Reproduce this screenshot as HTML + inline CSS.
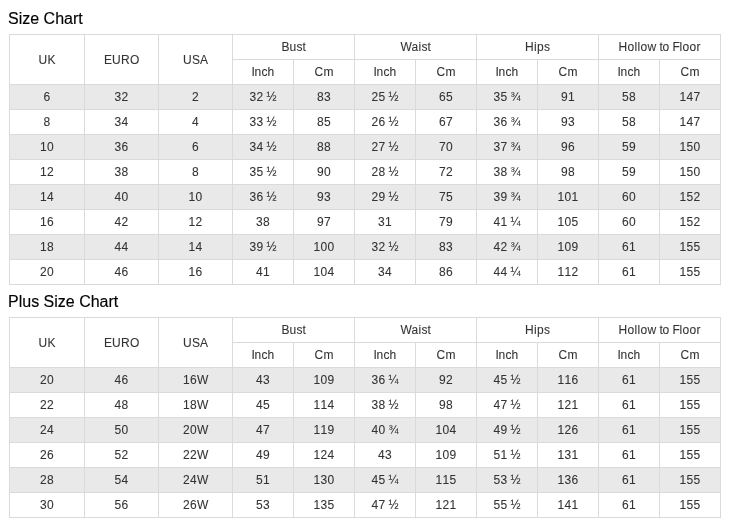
<!DOCTYPE html>
<html><head><meta charset="utf-8"><style>
html,body{margin:0;padding:0;background:#fff;}
body{width:730px;height:530px;position:relative;overflow:hidden;font-family:"Liberation Sans",sans-serif;}
#w{position:absolute;left:0;top:0;width:730px;height:530px;will-change:transform;}
.c{position:absolute;display:flex;align-items:center;justify-content:center;font-size:12px;color:#333333;white-space:nowrap;-webkit-text-stroke:0.08px #333333;}
.l{position:absolute;background:#dadada;}
.c i{font-style:normal;display:inline-block;overflow:visible;}
.w3{width:3px}.w4{width:4px}.w6{width:6px}.w7{width:7px}.w8{width:8px}.w9{width:9px}.w10{width:10px}.w11{width:11px}
.t{position:absolute;left:8px;font-size:16px;color:#000000;-webkit-text-stroke:0.15px #000000;line-height:36px;height:36px;white-space:nowrap;}
</style></head><body><div id="w">
<div class="t" style="top:1px">Size Chart</div>
<div style="position:absolute;left:9px;top:84px;width:711px;height:25px;background:#e9e9e9"></div>
<div style="position:absolute;left:9px;top:134px;width:711px;height:25px;background:#e9e9e9"></div>
<div style="position:absolute;left:9px;top:184px;width:711px;height:25px;background:#e9e9e9"></div>
<div style="position:absolute;left:9px;top:234px;width:711px;height:25px;background:#e9e9e9"></div>
<div class="c" style="left:10px;top:35px;width:74px;height:49px;"><i class="w9">U</i><i class="w8">K</i></div>
<div class="c" style="left:85px;top:35px;width:73px;height:49px;"><i class="w8">E</i><i class="w9">U</i><i class="w9">R</i><i class="w9">O</i></div>
<div class="c" style="left:159px;top:35px;width:73px;height:49px;"><i class="w9">U</i><i class="w8">S</i><i class="w8">A</i></div>
<div class="c" style="left:233px;top:35px;width:121px;height:24px;"><i class="w8">B</i><i class="w7">u</i><i class="w6">s</i><i class="w3">t</i></div>
<div class="c" style="left:233px;top:60px;width:60px;height:24px;"><i class="w3">I</i><i class="w7">n</i><i class="w6">c</i><i class="w7">h</i></div>
<div class="c" style="left:294px;top:60px;width:60px;height:24px;"><i class="w9">C</i><i class="w10">m</i></div>
<div class="c" style="left:355px;top:35px;width:121px;height:24px;"><i class="w11">W</i><i class="w7">a</i><i class="w3">i</i><i class="w6">s</i><i class="w3">t</i></div>
<div class="c" style="left:355px;top:60px;width:60px;height:24px;"><i class="w3">I</i><i class="w7">n</i><i class="w6">c</i><i class="w7">h</i></div>
<div class="c" style="left:416px;top:60px;width:60px;height:24px;"><i class="w9">C</i><i class="w10">m</i></div>
<div class="c" style="left:477px;top:35px;width:121px;height:24px;"><i class="w9">H</i><i class="w3">i</i><i class="w7">p</i><i class="w6">s</i></div>
<div class="c" style="left:477px;top:60px;width:60px;height:24px;"><i class="w3">I</i><i class="w7">n</i><i class="w6">c</i><i class="w7">h</i></div>
<div class="c" style="left:538px;top:60px;width:60px;height:24px;"><i class="w9">C</i><i class="w10">m</i></div>
<div class="c" style="left:599px;top:35px;width:121px;height:24px;"><i class="w9">H</i><i class="w7">o</i><i class="w3">l</i><i class="w3">l</i><i class="w7">o</i><i class="w9">w</i><i class="w3">&nbsp;</i><i class="w3">t</i><i class="w7">o</i><i class="w3">&nbsp;</i><i class="w7">F</i><i class="w3">l</i><i class="w7">o</i><i class="w7">o</i><i class="w4">r</i></div>
<div class="c" style="left:599px;top:60px;width:60px;height:24px;"><i class="w3">I</i><i class="w7">n</i><i class="w6">c</i><i class="w7">h</i></div>
<div class="c" style="left:660px;top:60px;width:60px;height:24px;"><i class="w9">C</i><i class="w10">m</i></div>
<div class="c" style="left:10px;top:85px;width:74px;height:24px;"><i class="w7">6</i></div>
<div class="c" style="left:85px;top:85px;width:73px;height:24px;"><i class="w7">3</i><i class="w7">2</i></div>
<div class="c" style="left:159px;top:85px;width:73px;height:24px;"><i class="w7">2</i></div>
<div class="c" style="left:233px;top:85px;width:60px;height:24px;"><i class="w7">3</i><i class="w7">2</i><i class="w3">&nbsp;</i><i class="w10">½</i></div>
<div class="c" style="left:294px;top:85px;width:60px;height:24px;"><i class="w7">8</i><i class="w7">3</i></div>
<div class="c" style="left:355px;top:85px;width:60px;height:24px;"><i class="w7">2</i><i class="w7">5</i><i class="w3">&nbsp;</i><i class="w10">½</i></div>
<div class="c" style="left:416px;top:85px;width:60px;height:24px;"><i class="w7">6</i><i class="w7">5</i></div>
<div class="c" style="left:477px;top:85px;width:60px;height:24px;"><i class="w7">3</i><i class="w7">5</i><i class="w3">&nbsp;</i><i class="w10">¾</i></div>
<div class="c" style="left:538px;top:85px;width:60px;height:24px;"><i class="w7">9</i><i class="w7">1</i></div>
<div class="c" style="left:599px;top:85px;width:60px;height:24px;"><i class="w7">5</i><i class="w7">8</i></div>
<div class="c" style="left:660px;top:85px;width:60px;height:24px;"><i class="w7">1</i><i class="w7">4</i><i class="w7">7</i></div>
<div class="c" style="left:10px;top:110px;width:74px;height:24px;"><i class="w7">8</i></div>
<div class="c" style="left:85px;top:110px;width:73px;height:24px;"><i class="w7">3</i><i class="w7">4</i></div>
<div class="c" style="left:159px;top:110px;width:73px;height:24px;"><i class="w7">4</i></div>
<div class="c" style="left:233px;top:110px;width:60px;height:24px;"><i class="w7">3</i><i class="w7">3</i><i class="w3">&nbsp;</i><i class="w10">½</i></div>
<div class="c" style="left:294px;top:110px;width:60px;height:24px;"><i class="w7">8</i><i class="w7">5</i></div>
<div class="c" style="left:355px;top:110px;width:60px;height:24px;"><i class="w7">2</i><i class="w7">6</i><i class="w3">&nbsp;</i><i class="w10">½</i></div>
<div class="c" style="left:416px;top:110px;width:60px;height:24px;"><i class="w7">6</i><i class="w7">7</i></div>
<div class="c" style="left:477px;top:110px;width:60px;height:24px;"><i class="w7">3</i><i class="w7">6</i><i class="w3">&nbsp;</i><i class="w10">¾</i></div>
<div class="c" style="left:538px;top:110px;width:60px;height:24px;"><i class="w7">9</i><i class="w7">3</i></div>
<div class="c" style="left:599px;top:110px;width:60px;height:24px;"><i class="w7">5</i><i class="w7">8</i></div>
<div class="c" style="left:660px;top:110px;width:60px;height:24px;"><i class="w7">1</i><i class="w7">4</i><i class="w7">7</i></div>
<div class="c" style="left:10px;top:135px;width:74px;height:24px;"><i class="w7">1</i><i class="w7">0</i></div>
<div class="c" style="left:85px;top:135px;width:73px;height:24px;"><i class="w7">3</i><i class="w7">6</i></div>
<div class="c" style="left:159px;top:135px;width:73px;height:24px;"><i class="w7">6</i></div>
<div class="c" style="left:233px;top:135px;width:60px;height:24px;"><i class="w7">3</i><i class="w7">4</i><i class="w3">&nbsp;</i><i class="w10">½</i></div>
<div class="c" style="left:294px;top:135px;width:60px;height:24px;"><i class="w7">8</i><i class="w7">8</i></div>
<div class="c" style="left:355px;top:135px;width:60px;height:24px;"><i class="w7">2</i><i class="w7">7</i><i class="w3">&nbsp;</i><i class="w10">½</i></div>
<div class="c" style="left:416px;top:135px;width:60px;height:24px;"><i class="w7">7</i><i class="w7">0</i></div>
<div class="c" style="left:477px;top:135px;width:60px;height:24px;"><i class="w7">3</i><i class="w7">7</i><i class="w3">&nbsp;</i><i class="w10">¾</i></div>
<div class="c" style="left:538px;top:135px;width:60px;height:24px;"><i class="w7">9</i><i class="w7">6</i></div>
<div class="c" style="left:599px;top:135px;width:60px;height:24px;"><i class="w7">5</i><i class="w7">9</i></div>
<div class="c" style="left:660px;top:135px;width:60px;height:24px;"><i class="w7">1</i><i class="w7">5</i><i class="w7">0</i></div>
<div class="c" style="left:10px;top:160px;width:74px;height:24px;"><i class="w7">1</i><i class="w7">2</i></div>
<div class="c" style="left:85px;top:160px;width:73px;height:24px;"><i class="w7">3</i><i class="w7">8</i></div>
<div class="c" style="left:159px;top:160px;width:73px;height:24px;"><i class="w7">8</i></div>
<div class="c" style="left:233px;top:160px;width:60px;height:24px;"><i class="w7">3</i><i class="w7">5</i><i class="w3">&nbsp;</i><i class="w10">½</i></div>
<div class="c" style="left:294px;top:160px;width:60px;height:24px;"><i class="w7">9</i><i class="w7">0</i></div>
<div class="c" style="left:355px;top:160px;width:60px;height:24px;"><i class="w7">2</i><i class="w7">8</i><i class="w3">&nbsp;</i><i class="w10">½</i></div>
<div class="c" style="left:416px;top:160px;width:60px;height:24px;"><i class="w7">7</i><i class="w7">2</i></div>
<div class="c" style="left:477px;top:160px;width:60px;height:24px;"><i class="w7">3</i><i class="w7">8</i><i class="w3">&nbsp;</i><i class="w10">¾</i></div>
<div class="c" style="left:538px;top:160px;width:60px;height:24px;"><i class="w7">9</i><i class="w7">8</i></div>
<div class="c" style="left:599px;top:160px;width:60px;height:24px;"><i class="w7">5</i><i class="w7">9</i></div>
<div class="c" style="left:660px;top:160px;width:60px;height:24px;"><i class="w7">1</i><i class="w7">5</i><i class="w7">0</i></div>
<div class="c" style="left:10px;top:185px;width:74px;height:24px;"><i class="w7">1</i><i class="w7">4</i></div>
<div class="c" style="left:85px;top:185px;width:73px;height:24px;"><i class="w7">4</i><i class="w7">0</i></div>
<div class="c" style="left:159px;top:185px;width:73px;height:24px;"><i class="w7">1</i><i class="w7">0</i></div>
<div class="c" style="left:233px;top:185px;width:60px;height:24px;"><i class="w7">3</i><i class="w7">6</i><i class="w3">&nbsp;</i><i class="w10">½</i></div>
<div class="c" style="left:294px;top:185px;width:60px;height:24px;"><i class="w7">9</i><i class="w7">3</i></div>
<div class="c" style="left:355px;top:185px;width:60px;height:24px;"><i class="w7">2</i><i class="w7">9</i><i class="w3">&nbsp;</i><i class="w10">½</i></div>
<div class="c" style="left:416px;top:185px;width:60px;height:24px;"><i class="w7">7</i><i class="w7">5</i></div>
<div class="c" style="left:477px;top:185px;width:60px;height:24px;"><i class="w7">3</i><i class="w7">9</i><i class="w3">&nbsp;</i><i class="w10">¾</i></div>
<div class="c" style="left:538px;top:185px;width:60px;height:24px;"><i class="w7">1</i><i class="w7">0</i><i class="w7">1</i></div>
<div class="c" style="left:599px;top:185px;width:60px;height:24px;"><i class="w7">6</i><i class="w7">0</i></div>
<div class="c" style="left:660px;top:185px;width:60px;height:24px;"><i class="w7">1</i><i class="w7">5</i><i class="w7">2</i></div>
<div class="c" style="left:10px;top:210px;width:74px;height:24px;"><i class="w7">1</i><i class="w7">6</i></div>
<div class="c" style="left:85px;top:210px;width:73px;height:24px;"><i class="w7">4</i><i class="w7">2</i></div>
<div class="c" style="left:159px;top:210px;width:73px;height:24px;"><i class="w7">1</i><i class="w7">2</i></div>
<div class="c" style="left:233px;top:210px;width:60px;height:24px;"><i class="w7">3</i><i class="w7">8</i></div>
<div class="c" style="left:294px;top:210px;width:60px;height:24px;"><i class="w7">9</i><i class="w7">7</i></div>
<div class="c" style="left:355px;top:210px;width:60px;height:24px;"><i class="w7">3</i><i class="w7">1</i></div>
<div class="c" style="left:416px;top:210px;width:60px;height:24px;"><i class="w7">7</i><i class="w7">9</i></div>
<div class="c" style="left:477px;top:210px;width:60px;height:24px;"><i class="w7">4</i><i class="w7">1</i><i class="w3">&nbsp;</i><i class="w10">¼</i></div>
<div class="c" style="left:538px;top:210px;width:60px;height:24px;"><i class="w7">1</i><i class="w7">0</i><i class="w7">5</i></div>
<div class="c" style="left:599px;top:210px;width:60px;height:24px;"><i class="w7">6</i><i class="w7">0</i></div>
<div class="c" style="left:660px;top:210px;width:60px;height:24px;"><i class="w7">1</i><i class="w7">5</i><i class="w7">2</i></div>
<div class="c" style="left:10px;top:235px;width:74px;height:24px;"><i class="w7">1</i><i class="w7">8</i></div>
<div class="c" style="left:85px;top:235px;width:73px;height:24px;"><i class="w7">4</i><i class="w7">4</i></div>
<div class="c" style="left:159px;top:235px;width:73px;height:24px;"><i class="w7">1</i><i class="w7">4</i></div>
<div class="c" style="left:233px;top:235px;width:60px;height:24px;"><i class="w7">3</i><i class="w7">9</i><i class="w3">&nbsp;</i><i class="w10">½</i></div>
<div class="c" style="left:294px;top:235px;width:60px;height:24px;"><i class="w7">1</i><i class="w7">0</i><i class="w7">0</i></div>
<div class="c" style="left:355px;top:235px;width:60px;height:24px;"><i class="w7">3</i><i class="w7">2</i><i class="w3">&nbsp;</i><i class="w10">½</i></div>
<div class="c" style="left:416px;top:235px;width:60px;height:24px;"><i class="w7">8</i><i class="w7">3</i></div>
<div class="c" style="left:477px;top:235px;width:60px;height:24px;"><i class="w7">4</i><i class="w7">2</i><i class="w3">&nbsp;</i><i class="w10">¾</i></div>
<div class="c" style="left:538px;top:235px;width:60px;height:24px;"><i class="w7">1</i><i class="w7">0</i><i class="w7">9</i></div>
<div class="c" style="left:599px;top:235px;width:60px;height:24px;"><i class="w7">6</i><i class="w7">1</i></div>
<div class="c" style="left:660px;top:235px;width:60px;height:24px;"><i class="w7">1</i><i class="w7">5</i><i class="w7">5</i></div>
<div class="c" style="left:10px;top:260px;width:74px;height:24px;"><i class="w7">2</i><i class="w7">0</i></div>
<div class="c" style="left:85px;top:260px;width:73px;height:24px;"><i class="w7">4</i><i class="w7">6</i></div>
<div class="c" style="left:159px;top:260px;width:73px;height:24px;"><i class="w7">1</i><i class="w7">6</i></div>
<div class="c" style="left:233px;top:260px;width:60px;height:24px;"><i class="w7">4</i><i class="w7">1</i></div>
<div class="c" style="left:294px;top:260px;width:60px;height:24px;"><i class="w7">1</i><i class="w7">0</i><i class="w7">4</i></div>
<div class="c" style="left:355px;top:260px;width:60px;height:24px;"><i class="w7">3</i><i class="w7">4</i></div>
<div class="c" style="left:416px;top:260px;width:60px;height:24px;"><i class="w7">8</i><i class="w7">6</i></div>
<div class="c" style="left:477px;top:260px;width:60px;height:24px;"><i class="w7">4</i><i class="w7">4</i><i class="w3">&nbsp;</i><i class="w10">¼</i></div>
<div class="c" style="left:538px;top:260px;width:60px;height:24px;"><i class="w7">1</i><i class="w7">1</i><i class="w7">2</i></div>
<div class="c" style="left:599px;top:260px;width:60px;height:24px;"><i class="w7">6</i><i class="w7">1</i></div>
<div class="c" style="left:660px;top:260px;width:60px;height:24px;"><i class="w7">1</i><i class="w7">5</i><i class="w7">5</i></div>
<div class="l" style="left:9px;top:34px;width:712px;height:1px"></div>
<div class="l" style="left:232px;top:59px;width:489px;height:1px"></div>
<div class="l" style="left:9px;top:84px;width:712px;height:1px"></div>
<div class="l" style="left:9px;top:109px;width:712px;height:1px"></div>
<div class="l" style="left:9px;top:134px;width:712px;height:1px"></div>
<div class="l" style="left:9px;top:159px;width:712px;height:1px"></div>
<div class="l" style="left:9px;top:184px;width:712px;height:1px"></div>
<div class="l" style="left:9px;top:209px;width:712px;height:1px"></div>
<div class="l" style="left:9px;top:234px;width:712px;height:1px"></div>
<div class="l" style="left:9px;top:259px;width:712px;height:1px"></div>
<div class="l" style="left:9px;top:284px;width:712px;height:1px"></div>
<div class="l" style="left:9px;top:34px;width:1px;height:251px"></div>
<div class="l" style="left:84px;top:34px;width:1px;height:251px"></div>
<div class="l" style="left:158px;top:34px;width:1px;height:251px"></div>
<div class="l" style="left:232px;top:34px;width:1px;height:251px"></div>
<div class="l" style="left:293px;top:59px;width:1px;height:226px"></div>
<div class="l" style="left:354px;top:34px;width:1px;height:251px"></div>
<div class="l" style="left:415px;top:59px;width:1px;height:226px"></div>
<div class="l" style="left:476px;top:34px;width:1px;height:251px"></div>
<div class="l" style="left:537px;top:59px;width:1px;height:226px"></div>
<div class="l" style="left:598px;top:34px;width:1px;height:251px"></div>
<div class="l" style="left:659px;top:59px;width:1px;height:226px"></div>
<div class="l" style="left:720px;top:34px;width:1px;height:251px"></div>
<div class="t" style="top:284px">Plus Size Chart</div>
<div style="position:absolute;left:9px;top:367px;width:711px;height:25px;background:#e9e9e9"></div>
<div style="position:absolute;left:9px;top:417px;width:711px;height:25px;background:#e9e9e9"></div>
<div style="position:absolute;left:9px;top:467px;width:711px;height:25px;background:#e9e9e9"></div>
<div class="c" style="left:10px;top:318px;width:74px;height:49px;"><i class="w9">U</i><i class="w8">K</i></div>
<div class="c" style="left:85px;top:318px;width:73px;height:49px;"><i class="w8">E</i><i class="w9">U</i><i class="w9">R</i><i class="w9">O</i></div>
<div class="c" style="left:159px;top:318px;width:73px;height:49px;"><i class="w9">U</i><i class="w8">S</i><i class="w8">A</i></div>
<div class="c" style="left:233px;top:318px;width:121px;height:24px;"><i class="w8">B</i><i class="w7">u</i><i class="w6">s</i><i class="w3">t</i></div>
<div class="c" style="left:233px;top:343px;width:60px;height:24px;"><i class="w3">I</i><i class="w7">n</i><i class="w6">c</i><i class="w7">h</i></div>
<div class="c" style="left:294px;top:343px;width:60px;height:24px;"><i class="w9">C</i><i class="w10">m</i></div>
<div class="c" style="left:355px;top:318px;width:121px;height:24px;"><i class="w11">W</i><i class="w7">a</i><i class="w3">i</i><i class="w6">s</i><i class="w3">t</i></div>
<div class="c" style="left:355px;top:343px;width:60px;height:24px;"><i class="w3">I</i><i class="w7">n</i><i class="w6">c</i><i class="w7">h</i></div>
<div class="c" style="left:416px;top:343px;width:60px;height:24px;"><i class="w9">C</i><i class="w10">m</i></div>
<div class="c" style="left:477px;top:318px;width:121px;height:24px;"><i class="w9">H</i><i class="w3">i</i><i class="w7">p</i><i class="w6">s</i></div>
<div class="c" style="left:477px;top:343px;width:60px;height:24px;"><i class="w3">I</i><i class="w7">n</i><i class="w6">c</i><i class="w7">h</i></div>
<div class="c" style="left:538px;top:343px;width:60px;height:24px;"><i class="w9">C</i><i class="w10">m</i></div>
<div class="c" style="left:599px;top:318px;width:121px;height:24px;"><i class="w9">H</i><i class="w7">o</i><i class="w3">l</i><i class="w3">l</i><i class="w7">o</i><i class="w9">w</i><i class="w3">&nbsp;</i><i class="w3">t</i><i class="w7">o</i><i class="w3">&nbsp;</i><i class="w7">F</i><i class="w3">l</i><i class="w7">o</i><i class="w7">o</i><i class="w4">r</i></div>
<div class="c" style="left:599px;top:343px;width:60px;height:24px;"><i class="w3">I</i><i class="w7">n</i><i class="w6">c</i><i class="w7">h</i></div>
<div class="c" style="left:660px;top:343px;width:60px;height:24px;"><i class="w9">C</i><i class="w10">m</i></div>
<div class="c" style="left:10px;top:368px;width:74px;height:24px;"><i class="w7">2</i><i class="w7">0</i></div>
<div class="c" style="left:85px;top:368px;width:73px;height:24px;"><i class="w7">4</i><i class="w7">6</i></div>
<div class="c" style="left:159px;top:368px;width:73px;height:24px;"><i class="w7">1</i><i class="w7">6</i><i class="w11">W</i></div>
<div class="c" style="left:233px;top:368px;width:60px;height:24px;"><i class="w7">4</i><i class="w7">3</i></div>
<div class="c" style="left:294px;top:368px;width:60px;height:24px;"><i class="w7">1</i><i class="w7">0</i><i class="w7">9</i></div>
<div class="c" style="left:355px;top:368px;width:60px;height:24px;"><i class="w7">3</i><i class="w7">6</i><i class="w3">&nbsp;</i><i class="w10">¼</i></div>
<div class="c" style="left:416px;top:368px;width:60px;height:24px;"><i class="w7">9</i><i class="w7">2</i></div>
<div class="c" style="left:477px;top:368px;width:60px;height:24px;"><i class="w7">4</i><i class="w7">5</i><i class="w3">&nbsp;</i><i class="w10">½</i></div>
<div class="c" style="left:538px;top:368px;width:60px;height:24px;"><i class="w7">1</i><i class="w7">1</i><i class="w7">6</i></div>
<div class="c" style="left:599px;top:368px;width:60px;height:24px;"><i class="w7">6</i><i class="w7">1</i></div>
<div class="c" style="left:660px;top:368px;width:60px;height:24px;"><i class="w7">1</i><i class="w7">5</i><i class="w7">5</i></div>
<div class="c" style="left:10px;top:393px;width:74px;height:24px;"><i class="w7">2</i><i class="w7">2</i></div>
<div class="c" style="left:85px;top:393px;width:73px;height:24px;"><i class="w7">4</i><i class="w7">8</i></div>
<div class="c" style="left:159px;top:393px;width:73px;height:24px;"><i class="w7">1</i><i class="w7">8</i><i class="w11">W</i></div>
<div class="c" style="left:233px;top:393px;width:60px;height:24px;"><i class="w7">4</i><i class="w7">5</i></div>
<div class="c" style="left:294px;top:393px;width:60px;height:24px;"><i class="w7">1</i><i class="w7">1</i><i class="w7">4</i></div>
<div class="c" style="left:355px;top:393px;width:60px;height:24px;"><i class="w7">3</i><i class="w7">8</i><i class="w3">&nbsp;</i><i class="w10">½</i></div>
<div class="c" style="left:416px;top:393px;width:60px;height:24px;"><i class="w7">9</i><i class="w7">8</i></div>
<div class="c" style="left:477px;top:393px;width:60px;height:24px;"><i class="w7">4</i><i class="w7">7</i><i class="w3">&nbsp;</i><i class="w10">½</i></div>
<div class="c" style="left:538px;top:393px;width:60px;height:24px;"><i class="w7">1</i><i class="w7">2</i><i class="w7">1</i></div>
<div class="c" style="left:599px;top:393px;width:60px;height:24px;"><i class="w7">6</i><i class="w7">1</i></div>
<div class="c" style="left:660px;top:393px;width:60px;height:24px;"><i class="w7">1</i><i class="w7">5</i><i class="w7">5</i></div>
<div class="c" style="left:10px;top:418px;width:74px;height:24px;"><i class="w7">2</i><i class="w7">4</i></div>
<div class="c" style="left:85px;top:418px;width:73px;height:24px;"><i class="w7">5</i><i class="w7">0</i></div>
<div class="c" style="left:159px;top:418px;width:73px;height:24px;"><i class="w7">2</i><i class="w7">0</i><i class="w11">W</i></div>
<div class="c" style="left:233px;top:418px;width:60px;height:24px;"><i class="w7">4</i><i class="w7">7</i></div>
<div class="c" style="left:294px;top:418px;width:60px;height:24px;"><i class="w7">1</i><i class="w7">1</i><i class="w7">9</i></div>
<div class="c" style="left:355px;top:418px;width:60px;height:24px;"><i class="w7">4</i><i class="w7">0</i><i class="w3">&nbsp;</i><i class="w10">¾</i></div>
<div class="c" style="left:416px;top:418px;width:60px;height:24px;"><i class="w7">1</i><i class="w7">0</i><i class="w7">4</i></div>
<div class="c" style="left:477px;top:418px;width:60px;height:24px;"><i class="w7">4</i><i class="w7">9</i><i class="w3">&nbsp;</i><i class="w10">½</i></div>
<div class="c" style="left:538px;top:418px;width:60px;height:24px;"><i class="w7">1</i><i class="w7">2</i><i class="w7">6</i></div>
<div class="c" style="left:599px;top:418px;width:60px;height:24px;"><i class="w7">6</i><i class="w7">1</i></div>
<div class="c" style="left:660px;top:418px;width:60px;height:24px;"><i class="w7">1</i><i class="w7">5</i><i class="w7">5</i></div>
<div class="c" style="left:10px;top:443px;width:74px;height:24px;"><i class="w7">2</i><i class="w7">6</i></div>
<div class="c" style="left:85px;top:443px;width:73px;height:24px;"><i class="w7">5</i><i class="w7">2</i></div>
<div class="c" style="left:159px;top:443px;width:73px;height:24px;"><i class="w7">2</i><i class="w7">2</i><i class="w11">W</i></div>
<div class="c" style="left:233px;top:443px;width:60px;height:24px;"><i class="w7">4</i><i class="w7">9</i></div>
<div class="c" style="left:294px;top:443px;width:60px;height:24px;"><i class="w7">1</i><i class="w7">2</i><i class="w7">4</i></div>
<div class="c" style="left:355px;top:443px;width:60px;height:24px;"><i class="w7">4</i><i class="w7">3</i></div>
<div class="c" style="left:416px;top:443px;width:60px;height:24px;"><i class="w7">1</i><i class="w7">0</i><i class="w7">9</i></div>
<div class="c" style="left:477px;top:443px;width:60px;height:24px;"><i class="w7">5</i><i class="w7">1</i><i class="w3">&nbsp;</i><i class="w10">½</i></div>
<div class="c" style="left:538px;top:443px;width:60px;height:24px;"><i class="w7">1</i><i class="w7">3</i><i class="w7">1</i></div>
<div class="c" style="left:599px;top:443px;width:60px;height:24px;"><i class="w7">6</i><i class="w7">1</i></div>
<div class="c" style="left:660px;top:443px;width:60px;height:24px;"><i class="w7">1</i><i class="w7">5</i><i class="w7">5</i></div>
<div class="c" style="left:10px;top:468px;width:74px;height:24px;"><i class="w7">2</i><i class="w7">8</i></div>
<div class="c" style="left:85px;top:468px;width:73px;height:24px;"><i class="w7">5</i><i class="w7">4</i></div>
<div class="c" style="left:159px;top:468px;width:73px;height:24px;"><i class="w7">2</i><i class="w7">4</i><i class="w11">W</i></div>
<div class="c" style="left:233px;top:468px;width:60px;height:24px;"><i class="w7">5</i><i class="w7">1</i></div>
<div class="c" style="left:294px;top:468px;width:60px;height:24px;"><i class="w7">1</i><i class="w7">3</i><i class="w7">0</i></div>
<div class="c" style="left:355px;top:468px;width:60px;height:24px;"><i class="w7">4</i><i class="w7">5</i><i class="w3">&nbsp;</i><i class="w10">¼</i></div>
<div class="c" style="left:416px;top:468px;width:60px;height:24px;"><i class="w7">1</i><i class="w7">1</i><i class="w7">5</i></div>
<div class="c" style="left:477px;top:468px;width:60px;height:24px;"><i class="w7">5</i><i class="w7">3</i><i class="w3">&nbsp;</i><i class="w10">½</i></div>
<div class="c" style="left:538px;top:468px;width:60px;height:24px;"><i class="w7">1</i><i class="w7">3</i><i class="w7">6</i></div>
<div class="c" style="left:599px;top:468px;width:60px;height:24px;"><i class="w7">6</i><i class="w7">1</i></div>
<div class="c" style="left:660px;top:468px;width:60px;height:24px;"><i class="w7">1</i><i class="w7">5</i><i class="w7">5</i></div>
<div class="c" style="left:10px;top:493px;width:74px;height:24px;"><i class="w7">3</i><i class="w7">0</i></div>
<div class="c" style="left:85px;top:493px;width:73px;height:24px;"><i class="w7">5</i><i class="w7">6</i></div>
<div class="c" style="left:159px;top:493px;width:73px;height:24px;"><i class="w7">2</i><i class="w7">6</i><i class="w11">W</i></div>
<div class="c" style="left:233px;top:493px;width:60px;height:24px;"><i class="w7">5</i><i class="w7">3</i></div>
<div class="c" style="left:294px;top:493px;width:60px;height:24px;"><i class="w7">1</i><i class="w7">3</i><i class="w7">5</i></div>
<div class="c" style="left:355px;top:493px;width:60px;height:24px;"><i class="w7">4</i><i class="w7">7</i><i class="w3">&nbsp;</i><i class="w10">½</i></div>
<div class="c" style="left:416px;top:493px;width:60px;height:24px;"><i class="w7">1</i><i class="w7">2</i><i class="w7">1</i></div>
<div class="c" style="left:477px;top:493px;width:60px;height:24px;"><i class="w7">5</i><i class="w7">5</i><i class="w3">&nbsp;</i><i class="w10">½</i></div>
<div class="c" style="left:538px;top:493px;width:60px;height:24px;"><i class="w7">1</i><i class="w7">4</i><i class="w7">1</i></div>
<div class="c" style="left:599px;top:493px;width:60px;height:24px;"><i class="w7">6</i><i class="w7">1</i></div>
<div class="c" style="left:660px;top:493px;width:60px;height:24px;"><i class="w7">1</i><i class="w7">5</i><i class="w7">5</i></div>
<div class="l" style="left:9px;top:317px;width:712px;height:1px"></div>
<div class="l" style="left:232px;top:342px;width:489px;height:1px"></div>
<div class="l" style="left:9px;top:367px;width:712px;height:1px"></div>
<div class="l" style="left:9px;top:392px;width:712px;height:1px"></div>
<div class="l" style="left:9px;top:417px;width:712px;height:1px"></div>
<div class="l" style="left:9px;top:442px;width:712px;height:1px"></div>
<div class="l" style="left:9px;top:467px;width:712px;height:1px"></div>
<div class="l" style="left:9px;top:492px;width:712px;height:1px"></div>
<div class="l" style="left:9px;top:517px;width:712px;height:1px"></div>
<div class="l" style="left:9px;top:317px;width:1px;height:201px"></div>
<div class="l" style="left:84px;top:317px;width:1px;height:201px"></div>
<div class="l" style="left:158px;top:317px;width:1px;height:201px"></div>
<div class="l" style="left:232px;top:317px;width:1px;height:201px"></div>
<div class="l" style="left:293px;top:342px;width:1px;height:176px"></div>
<div class="l" style="left:354px;top:317px;width:1px;height:201px"></div>
<div class="l" style="left:415px;top:342px;width:1px;height:176px"></div>
<div class="l" style="left:476px;top:317px;width:1px;height:201px"></div>
<div class="l" style="left:537px;top:342px;width:1px;height:176px"></div>
<div class="l" style="left:598px;top:317px;width:1px;height:201px"></div>
<div class="l" style="left:659px;top:342px;width:1px;height:176px"></div>
<div class="l" style="left:720px;top:317px;width:1px;height:201px"></div>
</div></body></html>
